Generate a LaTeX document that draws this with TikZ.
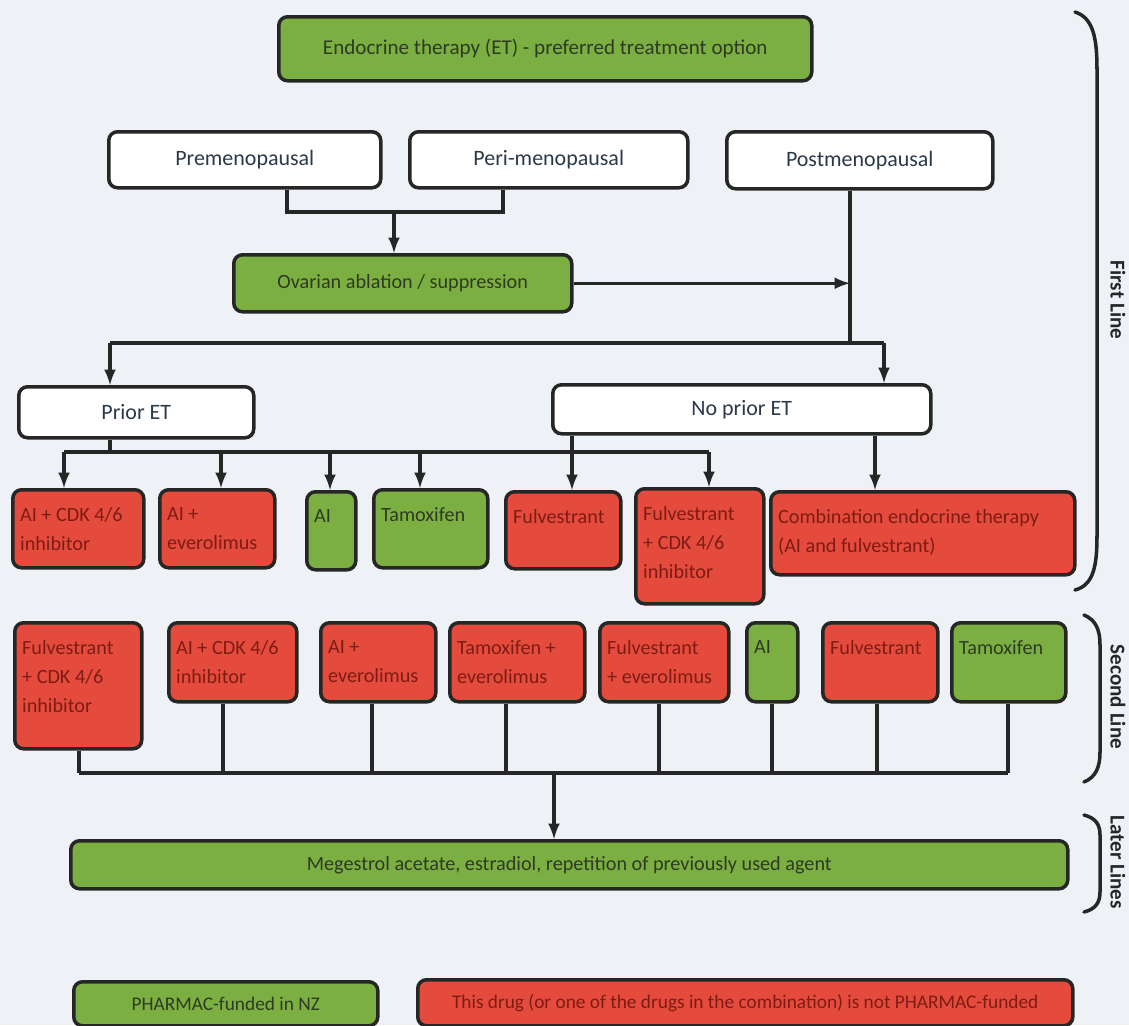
\documentclass[tikz,border=0pt]{standalone}
\usepackage{fontspec}
\setmainfont{Carlito}
\usepackage{tikz}
\usetikzlibrary{arrows,calc,positioning}
\definecolor{paper}{HTML}{EEF2F7}
\definecolor{edge}{HTML}{262626}
\definecolor{okgreen}{HTML}{7CAF42}
\definecolor{nored}{HTML}{E44B3C}
\definecolor{slate}{HTML}{2B3A4A}
\definecolor{greentext}{HTML}{2E3A22}
\definecolor{redtext}{HTML}{7E1C14}
\newcommand{\headfont}{\fontsize{12.5}{15}\selectfont}
\newcommand{\boxfont}{\fontsize{11.5}{16.5}\selectfont}
\newcommand{\keyfont}{\fontsize{11}{13}\selectfont}
\tikzset{%
	chartbox/.style       = {draw=edge, line width=2pt, rounded corners=5pt, anchor=north west, inner sep=0pt},
	boxsize/.style 2 args = {minimum width=#1*0.02cm, minimum height=#2*0.02cm},
	whitebox/.style       = {chartbox, fill=white, text=slate, font=\headfont},
	greenbox/.style       = {chartbox, fill=okgreen, text=greentext, font=\boxfont},
	redbox/.style         = {chartbox, fill=nored, text=redtext, font=\boxfont},
	gtext/.style          = {anchor=north west, align=left, inner sep=0pt, xshift=5pt, yshift=-11pt, text=greentext, font=\boxfont},
	rtext/.style          = {gtext, text=redtext},
	link/.style           = {line width=2pt, draw=edge},
	arrow/.style          = {link, -latex},
	bracket/.style        = {line width=2pt, draw=edge, line cap=round},
	linelabel/.style      = {rotate=-90, text=black!85, font=\bfseries\fontsize{12}{14}\selectfont},
}

\begin{document}
\begin{tikzpicture}[x=0.02cm, y=-0.02cm]
	\fill[paper] (0,0) rectangle (1129,1025);
	\useasboundingbox (0,0) rectangle (1129,1025);
	
	% top of the chart
	\node[greenbox, boxsize={533}{64}, font=\fontsize{12}{14}\selectfont] (et) at (277,15) {Endocrine therapy (ET) - preferred treatment option};
	\node[whitebox, boxsize={272}{56}] (pre) at (107,130) {Premenopausal};
	\node[whitebox, boxsize={278}{56}] (peri) at (408,130) {Peri-menopausal};
	\node[whitebox, boxsize={266}{57}] (post) at (725,130) {Postmenopausal};
	\node[greenbox, boxsize={338}{57}] (ovar) at (232,253) {Ovarian ablation / suppression};
	\node[whitebox, boxsize={235}{51}] (prior) at (17,385) {Prior ET};
	\node[whitebox, boxsize={378}{49}] (noprior) at (551,383) {No prior ET};
	
	% first line
	\node[redbox, boxsize={131}{78}, label={[rtext]north west:{AI + CDK 4/6\\inhibitor}}] (f1) at (11,488) {};
	\node[redbox, boxsize={115}{78}, label={[rtext]north west:{AI +\\everolimus}}] (f2) at (158,488) {};
	\node[greenbox, boxsize={49}{78}, label={[gtext]north west:{AI}}] (f3) at (305,490) {};
	\node[greenbox, boxsize={114}{78}, label={[gtext]north west:{Tamoxifen}}] (f4) at (372,488) {};
	\node[redbox, boxsize={115}{77}, label={[rtext]north west:{Fulvestrant}}] (f5) at (504,490) {};
	\node[redbox, boxsize={128}{115}, label={[rtext]north west:{Fulvestrant\\+ CDK 4/6\\inhibitor}}] (f6) at (634,487) {};
	\node[redbox, boxsize={304}{83}, label={[rtext]north west:{Combination endocrine therapy\\(AI and fulvestrant)}}] (f7) at (769,490) {};
	
	% second line
	\node[redbox, boxsize={127}{126}, label={[rtext]north west:{Fulvestrant\\+ CDK 4/6\\inhibitor}}] (s1) at (13,621) {};
	\node[redbox, boxsize={128}{79}, label={[rtext]north west:{AI + CDK 4/6\\inhibitor}}] (s2) at (167,621) {};
	\node[redbox, boxsize={115}{79}, label={[rtext]north west:{AI +\\everolimus}}] (s3) at (319,621) {};
	\node[redbox, boxsize={135}{79}, label={[rtext]north west:{Tamoxifen +\\everolimus}}] (s4) at (448,621) {};
	\node[redbox, boxsize={129}{79}, label={[rtext]north west:{Fulvestrant\\+ everolimus}}] (s5) at (598,621) {};
	\node[greenbox, boxsize={51}{79}, label={[gtext]north west:{AI}}] (s6) at (745,621) {};
	\node[redbox, boxsize={115}{79}, label={[rtext]north west:{Fulvestrant}}] (s7) at (821,621) {};
	\node[greenbox, boxsize={114}{79}, label={[gtext]north west:{Tamoxifen}}] (s8) at (950,621) {};
	
	% later lines and key
	\node[greenbox, boxsize={997}{48}] (mega) at (69,839) {Megestrol acetate, estradiol, repetition of previously used agent};
	\node[greenbox, boxsize={304}{44}, font=\keyfont] (keygreen) at (72,980) {PHARMAC-funded in NZ};
	\node[redbox, boxsize={655}{46}, font=\keyfont] (keyred) at (416,978) {This drug (or one of the drugs in the combination) is not PHARMAC-funded};
	
	% connectors, first line
	\coordinate (jpre) at (287,212);
	\coordinate (jperi) at (503,212);
	\coordinate (jov) at (394,212);
	\draw[link] (pre.south -| jpre) -- (jpre) -- (jperi) -- (peri.south -| jperi);
	\draw[arrow] (jov) -- (ovar.north -| jov);
	
	\coordinate (jpost) at (850,343);
	\coordinate (jl) at (110,343);
	\coordinate (jr) at (884,343);
	\draw[link] (post.south -| jpost) -- (jpost);
	\draw[arrow] (ovar.east) -- (ovar.east -| jpost);
	\draw[link] (jl) -- (jr);
	\draw[arrow] (jl) -- (prior.north -| jl);
	\draw[arrow] (jr) -- (noprior.north -| jr);
	
	\coordinate (jb) at (64,452);
	\coordinate (je) at (709,452);
	\coordinate (jn) at (572,452);
	\coordinate (jc) at (875,452);
	\draw[link] (prior.south -| jl) -- (jl |- jb);
	\draw[link] (jb) -- (je);
	\foreach \n/\x in {f1/64,f2/221,f3/330,f4/420,f6/709} {
		\coordinate (\n-in) at (\x,452);
		\draw[arrow] (\n-in) -- (\n.north -| \n-in);
	}
	\draw[arrow] (noprior.south -| jn) -- (f5.north -| jn);
	\draw[arrow] (noprior.south -| jc) -- (f7.north -| jc);
	
	% connectors, second line
	\foreach \n/\x in {s1/79,s2/223,s3/372,s4/506,s5/659,s6/772,s7/877,s8/1008} {
		\coordinate (\n-out) at (\x,773);
		\draw[link] (\n.south -| \n-out) -- (\n-out);
	}
	\draw[link] (s1-out) -- (s8-out);
	\coordinate (jm) at (554,773);
	\draw[arrow] (jm) -- (mega.north -| jm);
	
	% brackets
	\draw[bracket] (1075,12) .. controls (1094,18) and (1097,40) .. (1097,70) -- (1097,535) .. controls (1097,565) and (1094,585) .. (1075,590);
	\draw[bracket] (1084,615) .. controls (1096,620) and (1100,630) .. (1100,645) -- (1100,752) .. controls (1100,767) and (1096,777) .. (1084,782);
	\draw[bracket] (1084,815) .. controls (1096,818) and (1100,825) .. (1100,835) -- (1100,892) .. controls (1100,902) and (1096,909) .. (1084,912);
	\node[linelabel] (first) at (1118,300) {First Line};
	\node[linelabel] (second) at (1118,697) {Second Line};
	\node[linelabel] (later) at (1118,862) {Later Lines};
\end{tikzpicture}
\end{document}
